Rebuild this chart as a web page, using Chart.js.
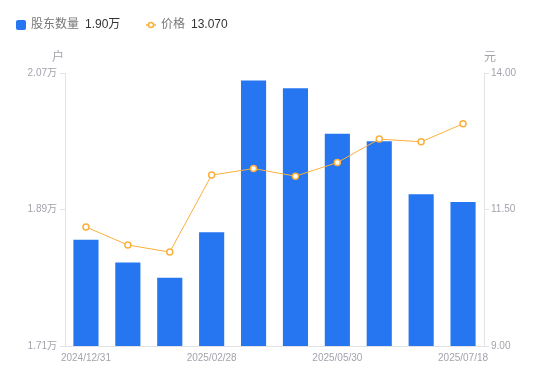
<!DOCTYPE html>
<html><head><meta charset="utf-8">
<script src="https://cdn.jsdelivr.net/npm/chart.js@4/dist/chart.umd.min.js"></script>
<style>html,body{margin:0;padding:0;background:#fff}#wrap{width:550px;height:381px;position:relative}</style>
</head><body><div id="wrap"><canvas id="c" width="550" height="381"></canvas></div>
<script>
const categories = ['2024/12/31','2025/01/20','2025/02/10','2025/02/28','2025/03/31','2025/04/30','2025/05/30','2025/06/20','2025/07/10','2025/07/18'];
const holders = [1.85, 1.82, 1.80, 1.86, 2.06, 2.05, 1.99, 1.98, 1.91, 1.90];
const prices = [11.18, 10.85, 10.72, 12.13, 12.25, 12.11, 12.36, 12.79, 12.74, 13.07];
const leftTicks = [1.71, 1.89, 2.07];
const rightTicks = [9.00, 11.50, 14.00];
const shownLabelIdx = [0, 3, 6, 9];
const seriesNames = ['股东数量', '价格'];
const unitLeft = '户', unitRight = '元';

const BLUE = '#2676f2', ORANGE = '#fbb03b', AXIS = '#e3e3e6', TICK = '#a3a3ad';
const FONT = '"Liberation Sans", "Noto Sans CJK SC", sans-serif';

const extras = {
  id: 'extras',
  afterDraw(chart) {
    const ctx = chart.ctx;
    ctx.save();
    ctx.textBaseline = 'middle';
    ctx.font = '12px ' + FONT;
    let x = 16, y = 25;
    ctx.fillStyle = BLUE;
    ctx.beginPath(); ctx.roundRect(x, y - 5, 10, 10, 2); ctx.fill();
    x += 15;
    ctx.fillStyle = '#777';
    ctx.fillText(seriesNames[0], x, y);
    x += ctx.measureText(seriesNames[0]).width + 6;
    ctx.fillStyle = '#333';
    const v1 = holders[holders.length - 1].toFixed(2) + '万';
    ctx.fillText(v1, x, y);
    x = 146;
    ctx.strokeStyle = ORANGE; ctx.lineWidth = 1.5;
    ctx.beginPath(); ctx.moveTo(x, y); ctx.lineTo(x + 10, y); ctx.stroke();
    ctx.beginPath(); ctx.arc(x + 5, y, 2.5, 0, Math.PI * 2); ctx.fillStyle = '#fff'; ctx.fill(); ctx.stroke();
    x += 15;
    ctx.fillStyle = '#777';
    ctx.fillText(seriesNames[1], x, y);
    x += ctx.measureText(seriesNames[1]).width + 6;
    ctx.fillStyle = '#333';
    ctx.fillText(prices[prices.length - 1].toFixed(3), x, y);
    const a = chart.chartArea;
    ctx.font = '12px ' + FONT;
    ctx.fillStyle = TICK;
    ctx.textAlign = 'center';
    ctx.fillText(unitLeft, a.left - 7, 58);
    ctx.fillText(unitRight, a.right + 6, 58);
    ctx.restore();
  }
};

new Chart(document.getElementById('c'), {
  data: {
    labels: categories,
    datasets: [
      { type: 'line', label: seriesNames[1], data: prices, yAxisID: 'y1', borderColor: ORANGE, borderWidth: 1, pointRadius: 3, pointBorderWidth: 1.5, pointBackgroundColor: '#fff', pointBorderColor: ORANGE, tension: 0, order: 0 },
      { type: 'bar', label: seriesNames[0], data: holders, yAxisID: 'y', backgroundColor: BLUE, barPercentage: 0.6, categoryPercentage: 1.0, order: 1 }
    ]
  },
  options: {
    responsive: false, animation: false,
    layout: { padding: { top: 73, left: 0, right: 0, bottom: 0 } },
    plugins: { legend: { display: false }, tooltip: { enabled: false } },
    scales: {
      x: {
        offset: true,
        grid: { display: false, drawTicks: false },
        border: { display: true, color: AXIS },
        afterFit(s) { s.height = 35; },
        ticks: { autoSkip: false, maxRotation: 0, padding: 6, color: TICK, font: { size: 10, family: FONT },
          callback(v, i) { return shownLabelIdx.includes(i) ? categories[i] : ''; } }
      },
      y: {
        position: 'left', min: leftTicks[0], max: leftTicks[leftTicks.length - 1],
        afterBuildTicks(s) { s.ticks = leftTicks.map(v => ({ value: v })); },
        afterFit(s) { s.width = 65; },
        grid: { drawOnChartArea: false, drawTicks: true, tickLength: 5, color: AXIS },
        border: { display: true, color: AXIS },
        ticks: { padding: 3, color: TICK, font: { size: 10, family: FONT }, callback: v => v.toFixed(2) + '万' }
      },
      y1: {
        position: 'right', min: rightTicks[0], max: rightTicks[rightTicks.length - 1],
        afterBuildTicks(s) { s.ticks = rightTicks.map(v => ({ value: v })); },
        afterFit(s) { s.width = 66; },
        grid: { drawOnChartArea: false, drawTicks: true, tickLength: 5, color: AXIS },
        border: { display: true, color: AXIS },
        ticks: { padding: 2, color: TICK, font: { size: 10, family: FONT }, callback: v => v.toFixed(2) }
      }
    }
  },
  plugins: [extras]
});
</script></body></html>
